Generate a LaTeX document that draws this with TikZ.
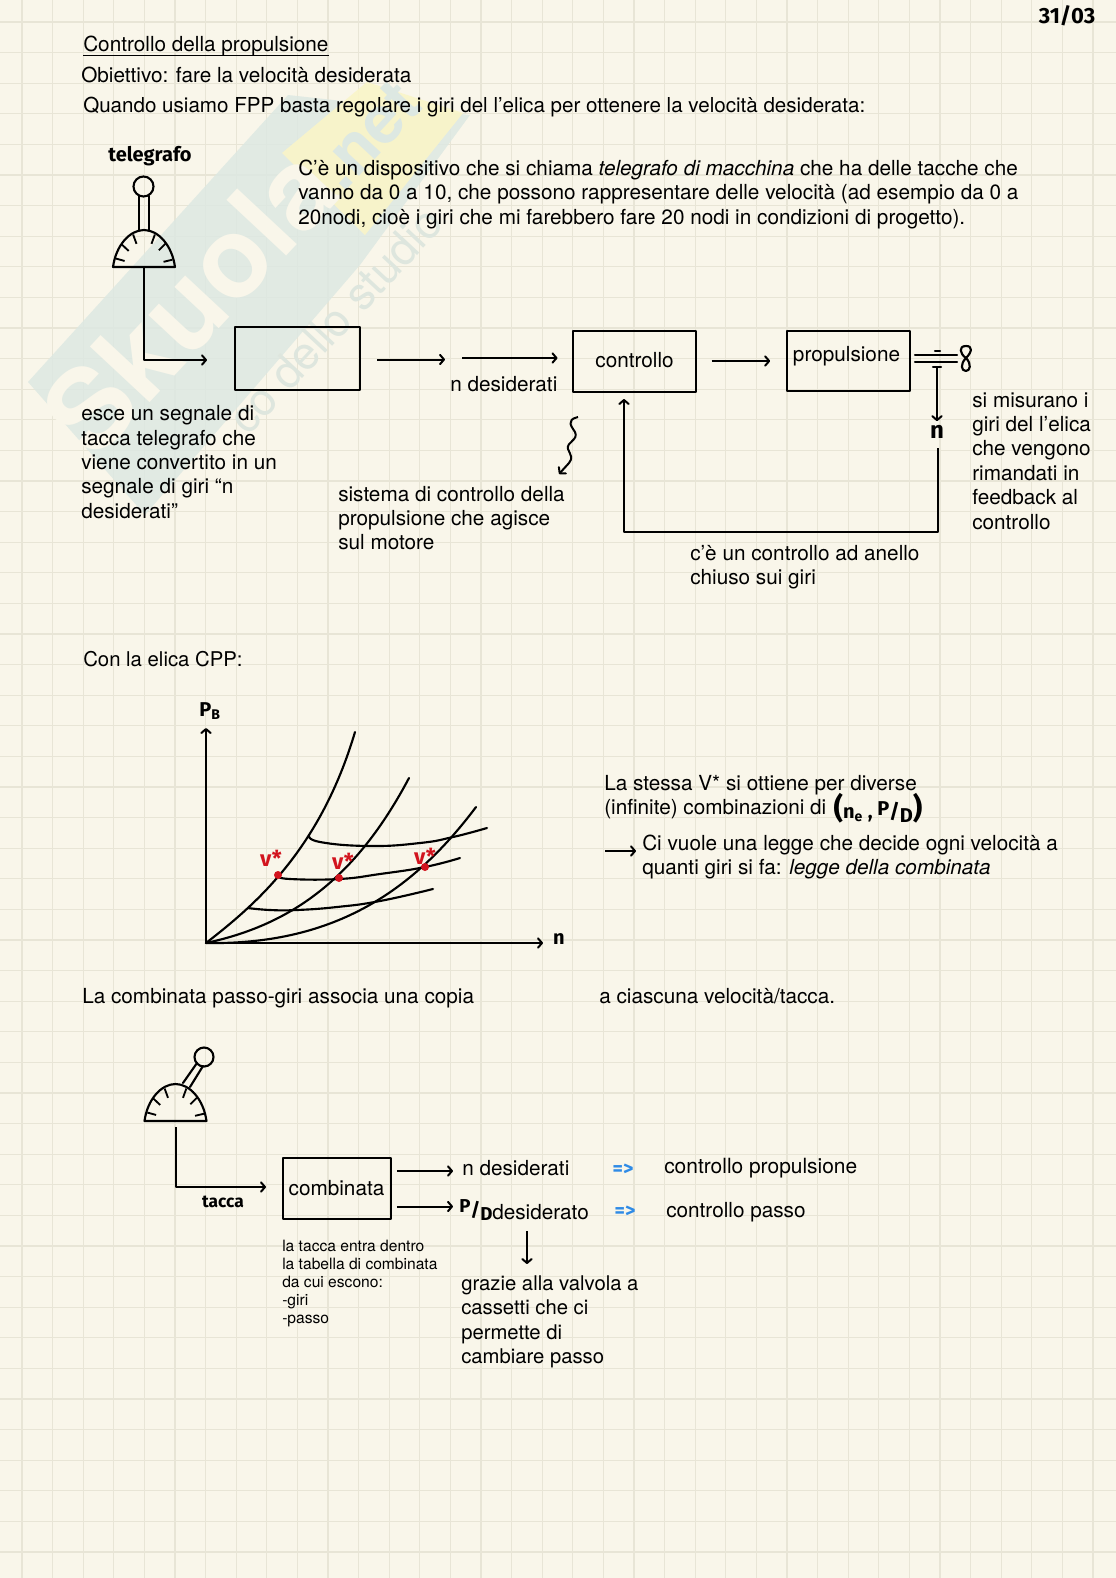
\documentclass[tikz,border=0pt]{standalone}
\usepackage{fontspec}
\setmainfont{TeX Gyre Heros}
\newfontfamily\handfont{Fira Sans}
\usepackage{xcolor}
\usetikzlibrary{arrows.meta}
\definecolor{paper}{HTML}{F9F6EA}
\definecolor{gridline}{HTML}{E8E5D6}
\definecolor{wmblue}{HTML}{DDE8E2}
\definecolor{wmyellow}{HTML}{FAF5C8}
\definecolor{wmtext}{HTML}{DEE6DE}
\definecolor{rosso}{HTML}{D2141E}
\definecolor{azzurro}{HTML}{2F8BE6}
\tikzset{
	txt/.style={anchor=west, align=left, inner sep=0pt, font=\fontsize{15.55}{18.3}\selectfont},
	small/.style={txt, font=\fontsize{11.7}{13.6}\selectfont},
	hand/.style={inner sep=0pt, font=\handfont\bfseries\fontsize{15}{18}\selectfont},
	box/.style={draw, line width=1.5pt, inner sep=0pt, font=\fontsize{15.55}{18.3}\selectfont},
	arr/.style={->, line width=1.5pt},
	curva/.style={line width=1.6pt, line cap=round}
}
\begin{document}
\begin{tikzpicture}[x=0.75pt, y=-0.75pt, >={Straight Barb[length=3pt,width=7pt,round]}, line join=round]
	\useasboundingbox (0,0) rectangle (1116,1578);
	\fill[paper] (0,0) rectangle (1116,1578);
	\foreach \k in {0,...,36} {
		\draw[gridline, line width=0.8pt] ({22+30.6*\k},0) -- ({22+30.6*\k},1578);
		\draw[gridline, line width=0.8pt] (0,{22+30.6*\k}) -- (1116,{22+30.6*\k});
	}
	\foreach \k in {37,...,51}
		\draw[gridline, line width=0.8pt] (0,{22+30.6*\k}) -- (1116,{22+30.6*\k});

	\fill[wmblue, opacity=0.85] (28,382) -- (288,95) -- (470,115) -- (360,265) -- (145,515) -- cycle;
	\fill[wmyellow, opacity=0.9] (282,153) -- (367,82) -- (463,113) -- (365,235) -- cycle;
	\node[rotate=47, text=paper, font=\bfseries\fontsize{84}{84}\selectfont, inner sep=0pt] (wmName) at (190,300) {Skuola};
	\node[rotate=47, text=wmblue, font=\bfseries\fontsize{50}{50}\selectfont, inner sep=0pt] (wmNet) at (368,135) {.net};
	\node[rotate=47, text=wmtext, font=\fontsize{34}{34}\selectfont, inner sep=0pt] (wmSub) at (335,320) {co dello studio};

	\node[hand, font=\handfont\bfseries\fontsize{16.5}{18}\selectfont] (data) at (1067,16) {31/03};
	\node[txt] (titolo) at (83,46) {Controllo della propulsione};
	\draw[line width=1pt] (titolo.west |- 0,55.5) -- (titolo.east |- 0,55.5);
	\node[txt] (obiettivo) at (81,75) {Obiettivo: fare la velocità desiderata};
	\node[txt, font=\fontsize{15.44}{18.3}\selectfont] (quando) at (83,107) {Quando usiamo FPP basta regolare i giri del l’elica per ottenere la velocità desiderata:};

	\node[hand] (telegrafo) at (150,156) {telegrafo};
	\node[txt] (dispositivo) at (298,194.5) {C’è un dispositivo che si chiama \textit{telegrafo di macchina} che ha delle tacche che\\vanno da 0 a 10, che possono rappresentare delle velocità (ad esempio da 0 a\\20nodi, cioè i giri che mi farebbero fare 20 nodi in condizioni di progetto).};

	\foreach \cx/\cy in {144/267,175.5/1121} {
		\draw[curva] (\cx-31,\cy) .. controls (\cx-28,\cy-22) and (\cx-14,\cy-37) .. (\cx,\cy-37) .. controls (\cx+14,\cy-37) and (\cx+28,\cy-22) .. (\cx+31,\cy) -- cycle;
		\foreach \a in {12,42,68,112,140,166}
			\draw[line width=1.4pt] ({\cx+29*cos(\a)},{\cy-35*sin(\a)}) -- ({\cx+20*cos(\a)},{\cy-25*sin(\a)});
	}
	\draw[curva] (143.5,186.5) circle (10);
	\draw[curva] (139,196) -- (139,231) (149,196) -- (149,231);
	\draw[curva] (204,1057) circle (9.5);
	\draw[curva] (183,1083) -- (197,1063) (190,1087) -- (203,1066);

	\coordinate (telBase) at (144,267);
	\coordinate (telEnd) at (207,360);
	\draw[arr] (telBase) |- (telEnd);
	\node[box, minimum width=94pt, minimum height=47pt] (boxConv) at (297.5,358.5) {};
	\coordinate (convEnd) at (445,359.5);
	\draw[arr, shorten <=12pt] (boxConv.east |- convEnd) -- (convEnd);
	\node[box, minimum width=92pt, minimum height=46pt] (boxCtrl) at (634.5,361.5) {\raisebox{3pt}{controllo}};
	\coordinate (ctrlIn) at (462,358);
	\draw[arr, shorten >=11pt] (ctrlIn) -- (ctrlIn -| boxCtrl.west);
	\node[box, minimum width=92pt, minimum height=45pt] (boxProp) at (848.5,361) {\hspace{-3pt}\raisebox{10.5pt}{propulsione}};
	\draw[arr, shorten <=11pt, shorten >=12pt] (boxCtrl.east |- boxProp) -- (boxProp.west);

	\node[txt] (nDes) at (450,384) {n desiderati};
	\node[txt] (esce) at (81,462) {esce un segnale di\\tacca telegrafo che\\viene convertito in un\\segnale di giri “n\\desiderati”};
	\coordinate (ondaStart) at (578,417);
	\coordinate (ondaEnd) at (559,474);
	\draw[arr] (ondaStart) .. controls (565,420) and (572,427) .. (575,432) .. controls (579,440) and (566,442) .. (568,449) .. controls (571,456) and (573,458) .. (569,463) -- (ondaEnd);
	\node[txt] (sistema) at (338,518) {sistema di controllo della\\propulsione che agisce\\sul motore};

	\draw[curva] (915,355) -- (957,355) (915,362) -- (957,362);
	\draw[curva] (935,351) -- (940,351);
	\coordinate (flangia) at (937,367);
	\draw[curva] (933,367) -- (941,367);
	\draw[curva] (966,346) .. controls (958,346) and (960,354) .. (966,358) .. controls (972,364) and (970,371) .. (966,371) .. controls (961,371) and (960,364) .. (966,358) .. controls (972,352) and (973,346) .. (966,346);
	\node[hand, font=\handfont\bfseries\fontsize{18}{18}\selectfont, inner sep=3pt] (nGiri) at (937,432) {n};
	\draw[arr] (flangia) -- (nGiri.north);
	\coordinate (fbCorner) at (938,532);
	\coordinate (fbEnd) at (624,399);
	\draw[arr, shorten <=4pt] (nGiri.south -| fbCorner) |- (fbEnd |- fbCorner) -- (fbEnd);
	\node[txt] (misura) at (972,461) {si misurano i\\giri del l’elica\\che vengono\\rimandati in\\feedback al\\controllo};
	\node[txt] (anello) at (690,567) {c’è un controllo ad anello\\chiuso sui giri};

	\node[txt, font=\fontsize{15.25}{18.3}\selectfont] (cpp) at (83,659) {Con la elica CPP:};

	\coordinate (origine) at (206,943);
	\coordinate (yTip) at (206,728);
	\coordinate (xTip) at (543,943);
	\node[hand] (pb) at (210,711) {P\textsubscript{B}};
	\node[hand] (nAsse) at (559,939) {n};
	\draw[arr] (origine) -- (yTip);
	\draw[arr] (origine) -- (xTip);
	\draw[curva] (origine) .. controls (255,905) and (320,850) .. (355,732);
	\draw[curva] (origine) .. controls (290,925) and (355,880) .. (409,778);
	\draw[curva] (origine) .. controls (330,945) and (410,895) .. (476,807);
	\draw[curva] plot[smooth, tension=0.8] coordinates {(248,908) (270,910) (297,910) (337,907) (380,901) (433,889)};
	\draw[curva] plot[smooth, tension=0.8] coordinates {(278,876) (290,879) (339,879) (380,874) (425,867) (460,858)};
	\draw[curva] plot[smooth, tension=0.8] coordinates {(309,835) (320,842) (370,846) (420,843) (453,837) (487,828)};
	\foreach \px/\py/\lx/\ly/\nome in {278/875/271/858/vA,339/878/343/861/vB,425/867/425/856/vC} {
		\fill[rosso] (\px,\py) circle (4);
		\node[hand, text=rosso, font=\handfont\bfseries\fontsize{16.5}{18}\selectfont] (\nome) at (\lx,\ly) {v*};
	}

	\node[txt] (stessa) at (604,797) {La stessa V* si ottiene per diverse\\(infinite) combinazioni di};
	\node[hand, font=\handfont\bfseries\fontsize{15}{18}\selectfont] (coppia) at (878,808) {{\fontsize{22}{22}\selectfont(}n\textsubscript{e} , \raisebox{2pt}{P}/\raisebox{-3pt}{D}{\fontsize{22}{22}\selectfont)}};
	\coordinate (leggeIn) at (605,851);
	\coordinate (leggeEnd) at (636,851);
	\draw[arr] (leggeIn) -- (leggeEnd);
	\node[txt] (legge) at (642,857) {Ci vuole una legge che decide ogni velocità a\\quanti giri si fa: \textit{legge della combinata}};

	\node[txt] (copia) at (82,998) {La combinata passo-giri associa una copia};
	\node[txt] (ciascuna) at (599,996) {a ciascuna velocità/tacca.};

	\coordinate (telBaseB) at (176,1127);
	\node[box, minimum width=81pt, minimum height=46pt] (boxComb) at (336.5,1188.5) {\raisebox{1pt}{combinata}};
	\coordinate (tacEnd) at (266,1187);
	\draw[arr] (telBaseB) |- (tacEnd);
	\node[hand, font=\handfont\bfseries\fontsize{13}{14}\selectfont] (tacca) at (223,1202) {tacca};

	\coordinate (outN) at (453,1171);
	\coordinate (outP) at (453,1206.5);
	\draw[arr, shorten <=4pt] (boxComb.east |- outN) -- (outN);
	\draw[arr, shorten <=4pt] (boxComb.east |- outP) -- (outP);
	\node[txt] (nDesB) at (462,1168) {n desiderati};
	\node[hand, font=\handfont\bfseries\fontsize{14}{18}\selectfont] (pd) at (476,1210) {\raisebox{3pt}{P}/\raisebox{-3pt}{D}};
	\node[txt] (pDes) at (492,1212) {desiderato};
	\node[hand, text=azzurro] (frecciaA) at (623,1170) {=>};
	\node[hand, text=azzurro] (frecciaB) at (625,1212) {=>};
	\node[txt, font=\fontsize{15.7}{18.3}\selectfont] (ctrlProp) at (664,1168) {controllo propulsione};
	\node[txt] (ctrlPasso) at (666,1212) {controllo passo};
	\coordinate (valvIn) at (527,1231);
	\coordinate (valvEnd) at (527,1264);
	\draw[arr] (valvIn) -- (valvEnd);
	\node[txt, font=\fontsize{15.2}{18.3}\selectfont] (grazie) at (461,1322) {grazie alla valvola a\\cassetti che ci\\permette di\\cambiare passo};
	\node[small] (tabella) at (282,1283.5) {la tacca entra dentro\\la tabella di combinata\\da cui escono:\\-giri\\-passo};
\end{tikzpicture}
\end{document}
